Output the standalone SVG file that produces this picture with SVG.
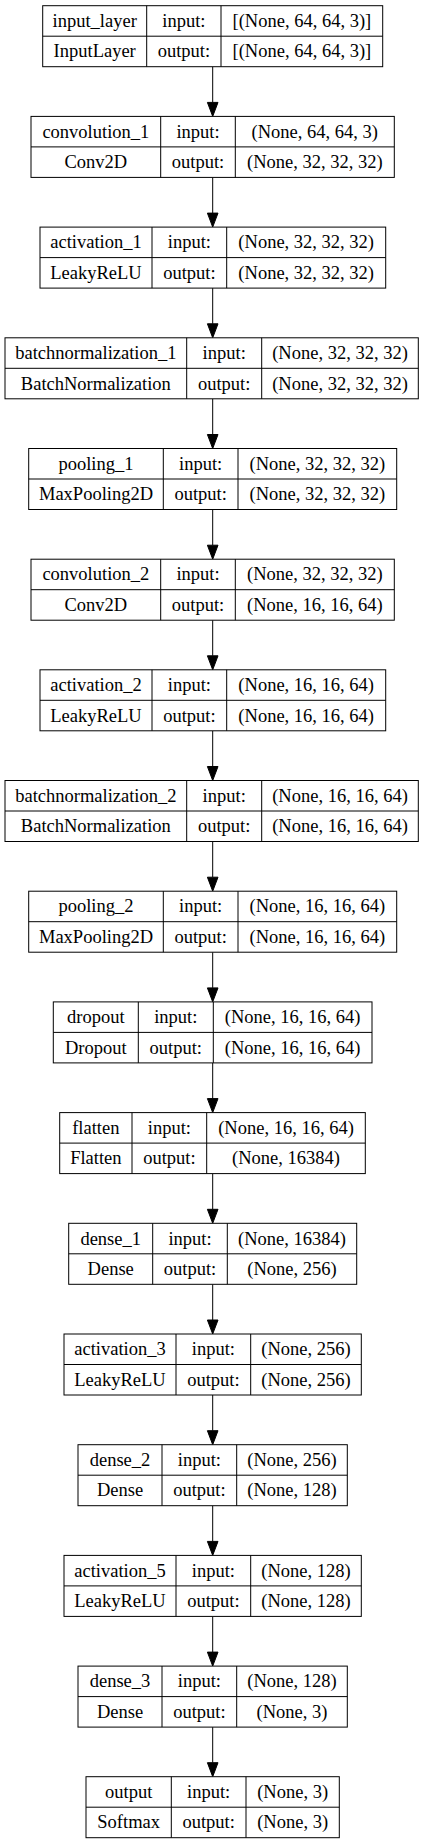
<svg xmlns="http://www.w3.org/2000/svg" width="425" height="1844" viewBox="0 0 425 1844">
<style>
.bx{fill:#fff;stroke:#000;stroke-width:1}
.dv{stroke:#000;stroke-width:1;fill:none}
text{font-family:"Liberation Serif","Times New Roman",serif;font-size:18.5px;fill:#000;text-anchor:middle}
.e{stroke:#000;stroke-width:1;fill:none}
.h{fill:#000;stroke:#000;stroke-width:1}
</style>
<rect width="425" height="1844" fill="#fff"/>
<g id="connectors">
<line class="e" x1="212.7" y1="66.7" x2="212.7" y2="102.4"/><polygon class="h" points="207.4,102.4 218,102.4 212.7,116.4"/>
<line class="e" x1="212.7" y1="177.4" x2="212.7" y2="213.1"/><polygon class="h" points="207.4,213.1 218,213.1 212.7,227.1"/>
<line class="e" x1="212.7" y1="288.1" x2="212.7" y2="323.8"/><polygon class="h" points="207.4,323.8 218,323.8 212.7,337.8"/>
<line class="e" x1="212.7" y1="398.8" x2="212.7" y2="434.5"/><polygon class="h" points="207.4,434.5 218,434.5 212.7,448.5"/>
<line class="e" x1="212.7" y1="509.5" x2="212.7" y2="545.2"/><polygon class="h" points="207.4,545.2 218,545.2 212.7,559.2"/>
<line class="e" x1="212.7" y1="620.2" x2="212.7" y2="655.8"/><polygon class="h" points="207.4,655.8 218,655.8 212.7,669.8"/>
<line class="e" x1="212.7" y1="730.8" x2="212.7" y2="766.5"/><polygon class="h" points="207.4,766.5 218,766.5 212.7,780.5"/>
<line class="e" x1="212.7" y1="841.5" x2="212.7" y2="877.2"/><polygon class="h" points="207.4,877.2 218,877.2 212.7,891.2"/>
<line class="e" x1="212.7" y1="952.2" x2="212.7" y2="987.9"/><polygon class="h" points="207.4,987.9 218,987.9 212.7,1001.9"/>
<line class="e" x1="212.7" y1="1062.9" x2="212.7" y2="1098.6"/><polygon class="h" points="207.4,1098.6 218,1098.6 212.7,1112.6"/>
<line class="e" x1="212.7" y1="1173.6" x2="212.7" y2="1209.3"/><polygon class="h" points="207.4,1209.3 218,1209.3 212.7,1223.3"/>
<line class="e" x1="212.7" y1="1284.3" x2="212.7" y2="1320"/><polygon class="h" points="207.4,1320 218,1320 212.7,1334"/>
<line class="e" x1="212.7" y1="1395" x2="212.7" y2="1430.7"/><polygon class="h" points="207.4,1430.7 218,1430.7 212.7,1444.7"/>
<line class="e" x1="212.7" y1="1505.7" x2="212.7" y2="1541.4"/><polygon class="h" points="207.4,1541.4 218,1541.4 212.7,1555.4"/>
<line class="e" x1="212.7" y1="1616.4" x2="212.7" y2="1652.1"/><polygon class="h" points="207.4,1652.1 218,1652.1 212.7,1666.1"/>
<line class="e" x1="212.7" y1="1727.1" x2="212.7" y2="1762.7"/><polygon class="h" points="207.4,1762.7 218,1762.7 212.7,1776.7"/>
</g>
<g id="input_layer" transform="translate(0,5.7)">
<rect class="bx" x="42.7" y="0" width="340" height="61"/>
<path class="dv" d="M42.7,30.5H382.7M146.7,0V61M221,0V61"/>
<text x="94.7" y="21.3">input_layer</text><text x="94.7" y="51.8">InputLayer</text>
<text x="183.85" y="21.3">input:</text><text x="183.85" y="51.8">output:</text>
<text x="301.85" y="21.3">[(None, 64, 64, 3)]</text><text x="301.85" y="51.8">[(None, 64, 64, 3)]</text>
</g>
<g id="convolution_1" transform="translate(0,116.4)">
<rect class="bx" x="31" y="0" width="363.3" height="61"/>
<path class="dv" d="M31,30.5H394.3M160.7,0V61M235.3,0V61"/>
<text x="95.85" y="21.3">convolution_1</text><text x="95.85" y="51.8">Conv2D</text>
<text x="198" y="21.3">input:</text><text x="198" y="51.8">output:</text>
<text x="314.8" y="21.3">(None, 64, 64, 3)</text><text x="314.8" y="51.8">(None, 32, 32, 32)</text>
</g>
<g id="activation_1" transform="translate(0,227.1)">
<rect class="bx" x="40" y="0" width="345.7" height="61"/>
<path class="dv" d="M40,30.5H385.7M152,0V61M226.7,0V61"/>
<text x="96" y="21.3">activation_1</text><text x="96" y="51.8">LeakyReLU</text>
<text x="189.35" y="21.3">input:</text><text x="189.35" y="51.8">output:</text>
<text x="306.2" y="21.3">(None, 32, 32, 32)</text><text x="306.2" y="51.8">(None, 32, 32, 32)</text>
</g>
<g id="batchnormalization_1" transform="translate(0,337.8)">
<rect class="bx" x="5" y="0" width="413.3" height="61"/>
<path class="dv" d="M5,30.5H418.3M186.7,0V61M261.7,0V61"/>
<text x="95.85" y="21.3">batchnormalization_1</text><text x="95.85" y="51.8">BatchNormalization</text>
<text x="224.2" y="21.3">input:</text><text x="224.2" y="51.8">output:</text>
<text x="340" y="21.3">(None, 32, 32, 32)</text><text x="340" y="51.8">(None, 32, 32, 32)</text>
</g>
<g id="pooling_1" transform="translate(0,448.5)">
<rect class="bx" x="28.7" y="0" width="368" height="61"/>
<path class="dv" d="M28.7,30.5H396.7M163.3,0V61M238,0V61"/>
<text x="96" y="21.3">pooling_1</text><text x="96" y="51.8">MaxPooling2D</text>
<text x="200.65" y="21.3">input:</text><text x="200.65" y="51.8">output:</text>
<text x="317.35" y="21.3">(None, 32, 32, 32)</text><text x="317.35" y="51.8">(None, 32, 32, 32)</text>
</g>
<g id="convolution_2" transform="translate(0,559.2)">
<rect class="bx" x="31" y="0" width="363.3" height="61"/>
<path class="dv" d="M31,30.5H394.3M160.7,0V61M235.3,0V61"/>
<text x="95.85" y="21.3">convolution_2</text><text x="95.85" y="51.8">Conv2D</text>
<text x="198" y="21.3">input:</text><text x="198" y="51.8">output:</text>
<text x="314.8" y="21.3">(None, 32, 32, 32)</text><text x="314.8" y="51.8">(None, 16, 16, 64)</text>
</g>
<g id="activation_2" transform="translate(0,669.8)">
<rect class="bx" x="40" y="0" width="345.7" height="61"/>
<path class="dv" d="M40,30.5H385.7M152,0V61M226.7,0V61"/>
<text x="96" y="21.3">activation_2</text><text x="96" y="51.8">LeakyReLU</text>
<text x="189.35" y="21.3">input:</text><text x="189.35" y="51.8">output:</text>
<text x="306.2" y="21.3">(None, 16, 16, 64)</text><text x="306.2" y="51.8">(None, 16, 16, 64)</text>
</g>
<g id="batchnormalization_2" transform="translate(0,780.5)">
<rect class="bx" x="5" y="0" width="413.3" height="61"/>
<path class="dv" d="M5,30.5H418.3M186.7,0V61M261.7,0V61"/>
<text x="95.85" y="21.3">batchnormalization_2</text><text x="95.85" y="51.8">BatchNormalization</text>
<text x="224.2" y="21.3">input:</text><text x="224.2" y="51.8">output:</text>
<text x="340" y="21.3">(None, 16, 16, 64)</text><text x="340" y="51.8">(None, 16, 16, 64)</text>
</g>
<g id="pooling_2" transform="translate(0,891.2)">
<rect class="bx" x="28.7" y="0" width="368" height="61"/>
<path class="dv" d="M28.7,30.5H396.7M163.3,0V61M238,0V61"/>
<text x="96" y="21.3">pooling_2</text><text x="96" y="51.8">MaxPooling2D</text>
<text x="200.65" y="21.3">input:</text><text x="200.65" y="51.8">output:</text>
<text x="317.35" y="21.3">(None, 16, 16, 64)</text><text x="317.35" y="51.8">(None, 16, 16, 64)</text>
</g>
<g id="dropout" transform="translate(0,1001.9)">
<rect class="bx" x="53.3" y="0" width="318.7" height="61"/>
<path class="dv" d="M53.3,30.5H372M138.3,0V61M213.3,0V61"/>
<text x="95.8" y="21.3">dropout</text><text x="95.8" y="51.8">Dropout</text>
<text x="175.8" y="21.3">input:</text><text x="175.8" y="51.8">output:</text>
<text x="292.65" y="21.3">(None, 16, 16, 64)</text><text x="292.65" y="51.8">(None, 16, 16, 64)</text>
</g>
<g id="flatten" transform="translate(0,1112.6)">
<rect class="bx" x="59.7" y="0" width="305.6" height="61"/>
<path class="dv" d="M59.7,30.5H365.3M132,0V61M206.7,0V61"/>
<text x="95.85" y="21.3">flatten</text><text x="95.85" y="51.8">Flatten</text>
<text x="169.35" y="21.3">input:</text><text x="169.35" y="51.8">output:</text>
<text x="286" y="21.3">(None, 16, 16, 64)</text><text x="286" y="51.8">(None, 16384)</text>
</g>
<g id="dense_1" transform="translate(0,1223.3)">
<rect class="bx" x="68.7" y="0" width="288" height="61"/>
<path class="dv" d="M68.7,30.5H356.7M152.7,0V61M227.3,0V61"/>
<text x="110.7" y="21.3">dense_1</text><text x="110.7" y="51.8">Dense</text>
<text x="190" y="21.3">input:</text><text x="190" y="51.8">output:</text>
<text x="292" y="21.3">(None, 16384)</text><text x="292" y="51.8">(None, 256)</text>
</g>
<g id="activation_3" transform="translate(0,1334)">
<rect class="bx" x="64" y="0" width="297.3" height="61"/>
<path class="dv" d="M64,30.5H361.3M176,0V61M250.7,0V61"/>
<text x="120" y="21.3">activation_3</text><text x="120" y="51.8">LeakyReLU</text>
<text x="213.35" y="21.3">input:</text><text x="213.35" y="51.8">output:</text>
<text x="306" y="21.3">(None, 256)</text><text x="306" y="51.8">(None, 256)</text>
</g>
<g id="dense_2" transform="translate(0,1444.7)">
<rect class="bx" x="78" y="0" width="269.3" height="61"/>
<path class="dv" d="M78,30.5H347.3M162,0V61M236.7,0V61"/>
<text x="120" y="21.3">dense_2</text><text x="120" y="51.8">Dense</text>
<text x="199.35" y="21.3">input:</text><text x="199.35" y="51.8">output:</text>
<text x="292" y="21.3">(None, 256)</text><text x="292" y="51.8">(None, 128)</text>
</g>
<g id="activation_5" transform="translate(0,1555.4)">
<rect class="bx" x="64" y="0" width="297.3" height="61"/>
<path class="dv" d="M64,30.5H361.3M176,0V61M250.7,0V61"/>
<text x="120" y="21.3">activation_5</text><text x="120" y="51.8">LeakyReLU</text>
<text x="213.35" y="21.3">input:</text><text x="213.35" y="51.8">output:</text>
<text x="306" y="21.3">(None, 128)</text><text x="306" y="51.8">(None, 128)</text>
</g>
<g id="dense_3" transform="translate(0,1666.1)">
<rect class="bx" x="78" y="0" width="269.3" height="61"/>
<path class="dv" d="M78,30.5H347.3M162,0V61M236.7,0V61"/>
<text x="120" y="21.3">dense_3</text><text x="120" y="51.8">Dense</text>
<text x="199.35" y="21.3">input:</text><text x="199.35" y="51.8">output:</text>
<text x="292" y="21.3">(None, 128)</text><text x="292" y="51.8">(None, 3)</text>
</g>
<g id="output" transform="translate(0,1776.7)">
<rect class="bx" x="86" y="0" width="253.3" height="61"/>
<path class="dv" d="M86,30.5H339.3M171.3,0V61M246,0V61"/>
<text x="128.65" y="21.3">output</text><text x="128.65" y="51.8">Softmax</text>
<text x="208.65" y="21.3">input:</text><text x="208.65" y="51.8">output:</text>
<text x="292.65" y="21.3">(None, 3)</text><text x="292.65" y="51.8">(None, 3)</text>
</g>
</svg>
